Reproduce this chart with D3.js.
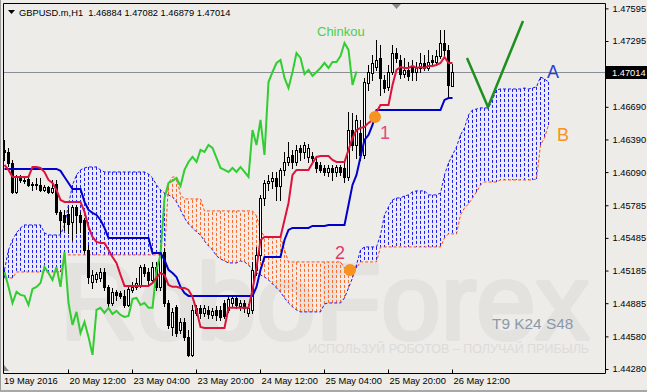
<!DOCTYPE html>
<html><head><meta charset="utf-8">
<script src="https://cdn.jsdelivr.net/npm/d3@7"></script>
<style>
html,body{margin:0;padding:0;background:#EDECE8;}
svg{display:block;}
text{font-family:"Liberation Sans",Arial,sans-serif;}
</style></head><body>
<svg id="c" width="647" height="392"></svg>
<script>
// ---------- DATA (GBPUSD H1, bars 19 May 20:00 .. 26 May 12:00) ----------
const open = [1.46294,1.46275,1.46174,1.45908,1.46045,1.46018,1.46027,1.45972,1.45981,1.45972,
1.45926,1.45953,1.45908,1.45981,1.45724,1.45696,1.45705,1.45632,1.45770,1.45696,
1.45650,1.45375,1.45080,1.45108,1.45117,1.45172,1.45035,1.44887,1.44989,1.44979,
1.44952,1.44869,1.45007,1.45035,1.45053,1.45218,1.45172,1.45099,1.45218,1.45035,
1.45356,1.44887,1.44667,1.44851,1.44639,1.44713,1.44575,1.44410,1.44796,1.44842,
1.44796,1.44823,1.44777,1.44823,1.44823,1.44887,1.44823,1.44887,1.44933,1.44860,
1.44887,1.44796,1.44823,1.45191,1.45329,1.45852,1.45990,1.46009,1.46036,1.45963,
1.46110,1.46183,1.46248,1.46183,1.46312,1.46275,1.46229,1.46238,1.46183,1.46156,
1.46128,1.46091,1.46128,1.46091,1.46137,1.46128,1.46045,1.46477,1.46339,1.46450,
1.46248,1.46909,1.47001,1.47056,1.47139,1.46937,1.46873,1.47010,1.47185,1.47121,
1.46992,1.47029,1.47066,1.47010,1.47047,1.47093,1.47047,1.47121,1.47102,1.47157,
1.47277,1.47213,1.46884];
const high = [1.46385,1.46312,1.46202,1.46064,1.46064,1.46055,1.46064,1.45999,1.46036,1.46036,
1.45972,1.45963,1.46018,1.46018,1.45742,1.45742,1.45760,1.45788,1.45788,1.45724,
1.45669,1.45420,1.45191,1.45172,1.45209,1.45209,1.45053,1.45025,1.45007,1.44998,
1.45007,1.45044,1.45080,1.45117,1.45237,1.45246,1.45209,1.45264,1.45264,1.45411,
1.45393,1.44915,1.44842,1.44869,1.44750,1.44750,1.44639,1.44869,1.44869,1.44869,
1.44869,1.44860,1.44842,1.44860,1.44860,1.44915,1.44952,1.44961,1.44961,1.44915,
1.44915,1.44878,1.45264,1.45402,1.45880,1.46018,1.46064,1.46091,1.46091,1.46128,
1.46275,1.46367,1.46294,1.46339,1.46339,1.46367,1.46349,1.46275,1.46220,1.46183,
1.46156,1.46156,1.46156,1.46156,1.46156,1.46174,1.46643,1.46634,1.46615,1.46569,
1.46955,1.47075,1.47167,1.47304,1.47258,1.46983,1.47075,1.47258,1.47231,1.47167,
1.47139,1.47102,1.47121,1.47102,1.47185,1.47167,1.47213,1.47167,1.47213,1.47396,
1.47396,1.47258,1.47082];
const low = [1.46202,1.46146,1.45898,1.45898,1.45999,1.45990,1.45963,1.45926,1.45935,1.45917,
1.45917,1.45898,1.45898,1.45705,1.45531,1.45558,1.45531,1.45466,1.45531,1.45540,
1.45356,1.45071,1.45025,1.45080,1.45090,1.45007,1.44851,1.44869,1.44915,1.44933,
1.44851,1.44860,1.44989,1.45016,1.45035,1.45136,1.45053,1.45071,1.45007,1.45007,
1.44860,1.44658,1.44593,1.44584,1.44612,1.44547,1.44400,1.44400,1.44777,1.44750,
1.44768,1.44750,1.44750,1.44731,1.44731,1.44750,1.44805,1.44860,1.44842,1.44823,
1.44805,1.44768,1.44796,1.45145,1.45283,1.45788,1.45926,1.45944,1.45834,1.45834,
1.46064,1.46156,1.46128,1.46156,1.46202,1.46220,1.46183,1.46183,1.46091,1.46091,
1.46064,1.46055,1.46018,1.46055,1.46064,1.45999,1.46018,1.46294,1.46220,1.46202,
1.46220,1.46845,1.46937,1.47029,1.46799,1.46827,1.46845,1.46992,1.47102,1.46955,
1.46964,1.46937,1.46937,1.46937,1.47010,1.47029,1.47029,1.47066,1.47084,1.47139,
1.47139,1.46781,1.46879];
const close = [1.46275,1.46174,1.45908,1.46045,1.46018,1.46009,1.45972,1.45981,1.45972,1.45926,
1.45953,1.45908,1.45944,1.45724,1.45650,1.45632,1.45613,1.45770,1.45696,1.45632,
1.45375,1.45126,1.45145,1.45154,1.45172,1.45035,1.44887,1.44989,1.44961,1.44952,
1.44869,1.45016,1.45035,1.45071,1.45218,1.45163,1.45099,1.45218,1.45035,1.45356,
1.44887,1.44685,1.44805,1.44612,1.44713,1.44575,1.44410,1.44823,1.44842,1.44796,
1.44842,1.44786,1.44814,1.44777,1.44759,1.44768,1.44924,1.44933,1.44869,1.44887,
1.44842,1.44842,1.45191,1.45329,1.45852,1.45990,1.46009,1.46036,1.45963,1.46110,
1.46183,1.46229,1.46183,1.46294,1.46275,1.46339,1.46312,1.46220,1.46128,1.46110,
1.46091,1.46128,1.46091,1.46137,1.46091,1.46045,1.46477,1.46339,1.46569,1.46248,
1.46918,1.47010,1.47093,1.47121,1.46955,1.46863,1.47010,1.47185,1.47139,1.46992,
1.47029,1.46974,1.47010,1.47047,1.47093,1.47047,1.47102,1.47102,1.47157,1.47277,
1.47213,1.46891,1.47014];
// Ichimoku (T9 K24 S48) lines
const tenkan = [1.46156,1.46110,1.46045,1.46045,1.46045,1.46045,1.46045,1.46137,1.46137,1.46128,
1.46091,1.46018,1.45990,1.45926,1.45834,1.45816,1.45816,1.45816,1.45816,1.45816,
1.45724,1.45586,1.45494,1.45448,1.45439,1.45439,1.45375,1.45310,1.45255,1.45145,
1.45044,1.45044,1.45044,1.45044,1.45044,1.45044,1.45044,1.45071,1.45117,1.45163,
1.45145,1.45053,1.45035,1.45035,1.45025,1.45025,1.45007,1.44943,1.44823,1.44667,
1.44658,1.44658,1.44658,1.44658,1.44658,1.44658,1.44842,1.44842,1.44842,1.44842,
1.44842,1.44842,1.45007,1.45209,1.45466,1.45494,1.45494,1.45494,1.45494,1.45494,
1.45650,1.45806,1.46064,1.46110,1.46110,1.46110,1.46110,1.46174,1.46229,1.46238,
1.46238,1.46238,1.46202,1.46183,1.46183,1.46183,1.46294,1.46404,1.46477,1.46496,
1.46505,1.46542,1.46569,1.46643,1.46707,1.46707,1.46707,1.46891,1.47029,1.47056,
1.47047,1.47047,1.47066,1.47047,1.47056,1.47047,1.47066,1.47066,1.47075,1.47093,
1.47148,1.47093,1.47093];
const kijun = [1.46119,1.46119,1.46119,1.46119,1.46119,1.46119,1.46119,1.46119,1.46119,1.46119,
1.46119,1.46119,1.46119,1.46119,1.46101,1.46045,1.45990,1.45935,1.45935,1.45935,
1.45816,1.45742,1.45715,1.45696,1.45650,1.45577,1.45485,1.45485,1.45485,1.45485,
1.45485,1.45485,1.45485,1.45485,1.45485,1.45485,1.45485,1.45347,1.45347,1.45347,
1.45283,1.45191,1.45163,1.45126,1.45035,1.44979,1.44952,1.44952,1.44952,1.44952,
1.44952,1.44952,1.44952,1.44952,1.44952,1.44952,1.44952,1.44952,1.44952,1.44952,
1.44952,1.44952,1.44952,1.45035,1.45191,1.45310,1.45310,1.45310,1.45310,1.45310,
1.45466,1.45558,1.45577,1.45577,1.45577,1.45577,1.45577,1.45595,1.45595,1.45595,
1.45595,1.45604,1.45604,1.45604,1.45604,1.45604,1.45788,1.45972,1.46064,1.46229,
1.46385,1.46431,1.46523,1.46661,1.46661,1.46661,1.46661,1.46661,1.46661,1.46661,
1.46661,1.46661,1.46661,1.46661,1.46661,1.46661,1.46661,1.46661,1.46661,1.46661,
1.46753,1.46771,1.46771];
// Senkou spans, already shifted 24 bars forward (137 positions)
const spanA = [1.45191,1.45375,1.45466,1.45531,1.45577,1.45604,1.45604,1.45604,1.45604,1.45604,
1.45531,1.45512,1.45512,1.45512,1.45512,1.45604,1.45788,1.45972,1.46064,1.46110,
1.46128,1.46137,1.46137,1.46137,1.46110,1.46091,1.46091,1.46091,1.46091,1.46091,
1.46091,1.46091,1.46091,1.46091,1.46091,1.46091,1.46073,1.46036,1.45972,1.45926,
1.45898,1.45880,1.45862,1.45816,1.45742,1.45669,1.45613,1.45577,1.45540,1.45512,
1.45457,1.45411,1.45375,1.45319,1.45292,1.45273,1.45255,1.45255,1.45255,1.45273,
1.45264,1.45237,1.45191,1.45163,1.45145,1.45126,1.45099,1.45062,1.45025,1.44989,
1.44933,1.44887,1.44851,1.44823,1.44805,1.44805,1.44805,1.44805,1.44805,1.44805,
1.44878,1.44887,1.44887,1.44887,1.44887,1.44933,1.45025,1.45117,1.45237,1.45375,
1.45402,1.45402,1.45402,1.45402,1.45512,1.45696,1.45770,1.45834,1.45852,1.45852,
1.45871,1.45880,1.45908,1.45917,1.45917,1.45917,1.45880,1.45880,1.45880,1.45898,
1.46064,1.46174,1.46248,1.46321,1.46431,1.46496,1.46615,1.46661,1.46670,1.46680,
1.46680,1.46680,1.46753,1.46845,1.46854,1.46854,1.46854,1.46854,1.46854,1.46854,
1.46863,1.46854,1.46863,1.46873,1.46964,1.46946,1.46918];
const spanB = [1.45117,1.45117,1.45117,1.45172,1.45172,1.45172,1.45172,1.45172,1.45172,1.45172,
1.45172,1.45172,1.45172,1.45172,1.45172,1.45329,1.45329,1.45329,1.45329,1.45329,
1.45329,1.45329,1.45329,1.45329,1.45329,1.45329,1.45329,1.45329,1.45329,1.45329,
1.45329,1.45329,1.45329,1.45329,1.45329,1.45329,1.45329,1.45329,1.45329,1.45329,
1.45329,1.45990,1.46045,1.46045,1.45880,1.45843,1.45843,1.45843,1.45843,1.45843,
1.45733,1.45733,1.45733,1.45733,1.45733,1.45733,1.45733,1.45733,1.45733,1.45733,
1.45733,1.45733,1.45733,1.45687,1.45558,1.45494,1.45494,1.45494,1.45494,1.45494,
1.45375,1.45264,1.45264,1.45264,1.45264,1.45264,1.45264,1.45264,1.45264,1.45264,
1.45264,1.45264,1.45264,1.45264,1.45264,1.45209,1.45209,1.45209,1.45209,1.45264,
1.45264,1.45264,1.45264,1.45264,1.45402,1.45402,1.45402,1.45402,1.45402,1.45402,
1.45402,1.45402,1.45402,1.45402,1.45402,1.45402,1.45402,1.45402,1.45402,1.45402,
1.45485,1.45522,1.45522,1.45522,1.45696,1.45760,1.45797,1.45852,1.45908,1.45972,
1.45999,1.45999,1.45999,1.45999,1.46018,1.46018,1.46018,1.46018,1.46018,1.46018,
1.46018,1.46018,1.46018,1.46027,1.46339,1.46404,1.46523];
const chinkouShift = 24;          // Chinkou = close plotted 24 bars back
const priceTicks = [1.47595,1.47295,1.46690,1.46390,1.46090,1.45785,1.45485,1.45185,1.44885,1.44580,1.44280];
const timeTickBars = [16,32,48,64,80,96,112];
const timeTickLabels = ["20 May 12:00","23 May 04:00","23 May 20:00","24 May 12:00","25 May 04:00","25 May 20:00","26 May 12:00"];
const firstDateLabel = "19 May 2016";
const currentPrice = 1.47014;
const header = "GBPUSD.m,H1  1.46884 1.47082 1.46879 1.47014";
// annotations (bar index, price)
const dotBars = [92.75, 86.5], dotPrices = [1.46597, 1.45191];
const vBars = [115.75, 121, 129.75], vPrices = [1.47139, 1.46689, 1.47479];

// ---------- SCALES ----------
const svg = d3.select("#c");
const x = d3.scaleLinear().domain([0,112]).range([4,452]);
const y = d3.scaleLinear().domain([1.44280,1.47295]).range([369,41]);
const X = i => Math.round(x(i)) + 0.5;
const L = {left:3, top:3, right:605, bottom:373};
const AXF = 9.3;

svg.append("rect").attr("width",647).attr("height",392).attr("fill","#EDECE8");
svg.append("line").attr("x1",0.5).attr("x2",0.5).attr("y1",0).attr("y2",392).attr("stroke","#9a9a9a");
svg.append("rect").attr("x",0).attr("y",390).attr("width",647).attr("height",2).attr("fill","#a8a8a8");

svg.append("clipPath").attr("id","clip").append("rect")
  .attr("x",L.left+1).attr("y",L.top+1).attr("width",L.right-L.left-1).attr("height",L.bottom-L.top-1);

// watermark
const wm = svg.append("g");
wm.append("text").attr("x",60).attr("y",339).text("RoboForex")
  .attr("font-size",107).attr("fill","#E3E2DF").attr("stroke","#E3E2DF").attr("stroke-width",4)
  .attr("stroke-linejoin","round");
wm.append("text").attr("x",308).attr("y",353).text("ИСПОЛЬЗУЙ РОБОТОВ – ПОЛУЧАЙ ПРИБЫЛЬ")
  .attr("font-size",12.5).attr("fill","#DCDBD8");

const plot = svg.append("g").attr("clip-path","url(#clip)");

// current price line
plot.append("line").attr("x1",L.left).attr("x2",L.right)
  .attr("y1",Math.round(y(currentPrice))+0.5).attr("y2",Math.round(y(currentPrice))+0.5)
  .attr("stroke","#8a8e96").attr("stroke-width",1);

// cloud hatch
const cIdx = d3.range(spanA.length);
plot.append("g").selectAll("line").data(cIdx).join("line")
  .attr("x1",X).attr("x2",X)
  .attr("y1",i=>y(spanA[i])).attr("y2",i=>y(spanB[i]))
  .attr("stroke",i=> spanA[i]>=spanB[i] ? "#1a1aff" : "#ff6a2a")
  .attr("stroke-width",1).attr("stroke-dasharray","3,2");

// span lines
const lineGen = arr => d3.line().x((d,i)=>X(i)).y(d=>y(d))(arr);
plot.append("path").attr("d",lineGen(spanA)).attr("fill","none").attr("stroke","#1a1aff").attr("stroke-width",1).attr("stroke-dasharray","3,2");
plot.append("path").attr("d",lineGen(spanB)).attr("fill","none").attr("stroke","#ff4a10").attr("stroke-width",1).attr("stroke-dasharray","3,2");

// candles
const bars = d3.range(close.length);
const cg = plot.append("g");
cg.selectAll("line").data(bars).join("line")
  .attr("x1",X).attr("x2",X).attr("y1",i=>Math.round(y(high[i]))).attr("y2",i=>Math.round(y(low[i]))+1)
  .attr("stroke","#000").attr("stroke-width",1);
cg.selectAll("rect").data(bars).join("rect")
  .attr("x",i=>Math.round(x(i))-0.5).attr("width",2)
  .attr("y",i=>Math.round(y(Math.max(open[i],close[i])))+0.5)
  .attr("height",i=>Math.max(1,Math.round(y(Math.min(open[i],close[i])))-Math.round(y(Math.max(open[i],close[i])))))
  .attr("fill",i=>close[i]>=open[i]?"#ffffff":"#000000").attr("stroke","#000").attr("stroke-width",1);

// chinkou, tenkan, kijun
const chinkou = close.slice(chinkouShift);
plot.append("path").attr("d",lineGen(chinkou)).attr("fill","none").attr("stroke","#32CD32").attr("stroke-width",2);
plot.append("path").attr("d",lineGen(kijun)).attr("fill","none").attr("stroke","#0000CD").attr("stroke-width",2);
plot.append("path").attr("d",lineGen(tenkan)).attr("fill","none").attr("stroke","#DC143C").attr("stroke-width",2);

// annotations
plot.append("path").attr("d",d3.line().x((d,i)=>x(vBars[i])).y(d=>y(d))(vPrices))
  .attr("fill","none").attr("stroke","#1f8f1f").attr("stroke-width",2.5);
plot.selectAll("circle").data(dotBars).join("circle")
  .attr("cx",d=>x(d)).attr("cy",(d,i)=>y(dotPrices[i])).attr("r",6).attr("fill","#F7931E");
const ann = [
  {t:"Chinkou", b:78.25, p:1.47341, c:"#4ccf4c", s:13},
  {t:"1", b:94, p:1.46395, c:"#e24a7e", s:18},
  {t:"2", b:82.75, p:1.45292, c:"#e0396b", s:18},
  {t:"A", b:135.75, p:1.46955, c:"#2a3fd8", s:18},
  {t:"B", b:138.25, p:1.46376, c:"#f7931e", s:18}
];
plot.append("g").selectAll("text").data(ann).join("text")
  .attr("x",d=>x(d.b)).attr("y",d=>y(d.p)).text(d=>d.t)
  .attr("fill",d=>d.c).attr("font-size",d=>d.s);
plot.append("text").attr("x",492).attr("y",329).text("T9 K24 S48")
  .attr("fill","#8a99aa").attr("font-size",15.4);

// frame
svg.append("path").attr("d",`M${L.right+0.5},${L.top+0.5}H${L.left+0.5}V${L.bottom+0.5}H${L.right+0.5}V${L.top+0.5}`)
  .attr("fill","none").attr("stroke","#000").attr("stroke-width",1);
svg.append("path").attr("d","M392,4L401,4L396.5,9Z").attr("fill","#8a8a8a");
svg.append("path").attr("d","M4,371L4,365L9,371Z").attr("fill","#8a8a8a");

// y axis
const ya = svg.append("g").attr("transform",`translate(${L.right+0.5},0)`)
  .call(d3.axisRight(y).tickValues(priceTicks).tickFormat(d3.format(".5f")).tickSize(3).tickPadding(4));
ya.select(".domain").remove();
ya.selectAll("line").attr("stroke","#000");
ya.selectAll("text").attr("font-size",AXF).attr("fill","#000").attr("font-family","Liberation Sans, Arial, sans-serif");

// current price box
svg.append("rect").attr("x",606).attr("y",Math.round(y(currentPrice))-6).attr("width",41).attr("height",13).attr("fill","#000");
svg.append("text").attr("x",612).attr("y",Math.round(y(currentPrice))+4).text(d3.format(".5f")(currentPrice))
  .attr("fill","#fff").attr("font-size",AXF);

// x axis
const xa = svg.append("g").attr("transform",`translate(0,${L.bottom+0.5})`)
  .call(d3.axisBottom(x).tickValues(timeTickBars).tickFormat((d,i)=>timeTickLabels[i]).tickSizeInner(-4).tickSizeOuter(0).tickPadding(6));
xa.select(".domain").remove();
xa.selectAll(".tick line").attr("stroke","#000").attr("y2",-4);
xa.selectAll(".tick text").attr("text-anchor","start").attr("dx",1).attr("dy",0).attr("y",10)
  .attr("font-size",AXF).attr("fill","#000").attr("font-family","Liberation Sans, Arial, sans-serif");
svg.append("text").attr("x",4).attr("y",L.bottom+10.5).text(firstDateLabel).attr("font-size",AXF);

// header
svg.append("path").attr("d","M8,10L15,10L11.5,14Z").attr("fill","#000");
svg.append("text").attr("x",19).attr("y",16).text(header).attr("font-size",AXF).attr("fill","#000")
  .attr("xml:space","preserve").style("white-space","pre");
</script>
</body></html>
